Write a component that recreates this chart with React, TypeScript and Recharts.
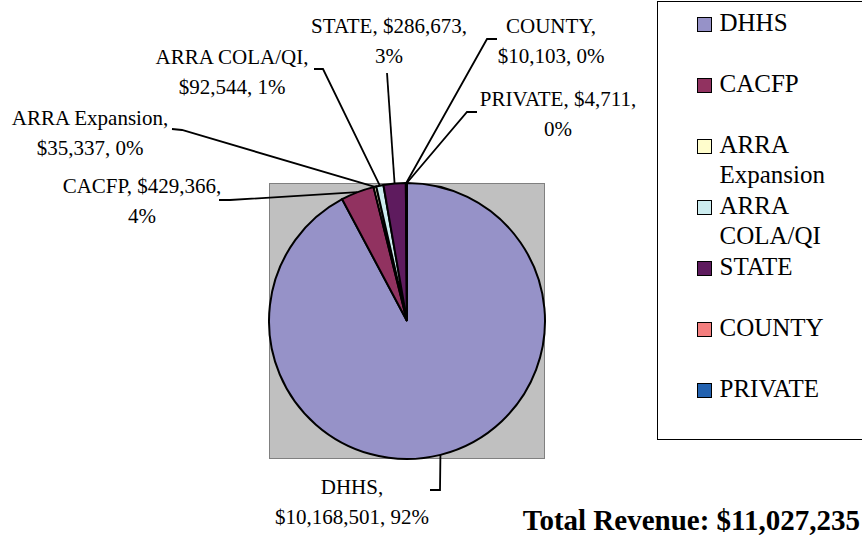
import React from 'react';
import { PieChart, Pie, Cell, Legend } from 'recharts';

// revenue sources, in Excel's order (clockwise from 12 o'clock)
const names = ['DHHS', 'CACFP', 'ARRA Expansion', 'ARRA COLA/QI', 'STATE', 'COUNTY', 'PRIVATE'];
const values = [10168501, 429366, 35337, 92544, 286673, 10103, 4711];
const colors = ['#9692C8', '#913260', '#FFFDCC', '#CCECEF', '#5E1B5E', '#F37E7E', '#2362B0'];
// where each data label wraps onto its second line
const wrapAt = ['name', 'value', 'name', 'name', 'value', 'name', 'value'];

const total = values.reduce((a, b) => a + b, 0);
const data = names.map((name, i) => ({ name, value: values[i] }));

const CX = 407;
const CY = 321;
const R = 138;
const RAD = Math.PI / 180;
const FONT = '"Liberation Serif", "Times New Roman", serif';

// hand-placed data labels: text centre + first baseline, leader end + elbow
const labelPos = [
  { x: 352, y: 494, end: [430, 490], elbow: [440, 490] },
  { x: 142, y: 193, end: [219, 200], elbow: [230, 200] },
  { x: 90, y: 125, end: [172, 129], elbow: [182, 130] },
  { x: 232, y: 64, end: [314, 69], elbow: [323, 69] },
  { x: 389, y: 33, end: [387, 73], elbow: [387, 73] },
  { x: 551, y: 33, end: [497, 39], elbow: [487, 39] },
  { x: 558, y: 106, end: [477, 112], elbow: [467, 112] },
];

const money = (v: number) => '$' + v.toLocaleString('en-US');

function renderLabel(props: any) {
  const { cx, cy, midAngle, outerRadius, index } = props;
  const ax = cx + outerRadius * Math.cos(-midAngle * RAD);
  const ay = cy + outerRadius * Math.sin(-midAngle * RAD);
  const pos = labelPos[index];
  const pct = Math.round((values[index] / total) * 100) + '%';
  const v = money(values[index]);
  let line1, line2;
  if (wrapAt[index] === 'name') {
    line1 = `${names[index]},`;
    line2 = `${v}, ${pct}`;
  } else {
    line1 = `${names[index]}, ${v},`;
    line2 = pct;
  }
  const pts = `${pos.end[0]},${pos.end[1]} ${pos.elbow[0]},${pos.elbow[1]} ${ax},${ay}`;
  return (
    <g key={`lbl-${index}`}>
      <polyline points={pts} fill="none" stroke="#000" strokeWidth={1.8} />
      <text x={pos.x} y={pos.y} textAnchor="middle" fontFamily={FONT} fontSize={21} fill="#000">
        <tspan x={pos.x} y={pos.y}>{line1}</tspan>
        <tspan x={pos.x} y={pos.y + 30}>{line2}</tspan>
      </text>
    </g>
  );
}

function renderLegend() {
  return (
    <div
      style={{
        position: 'relative',
        width: 240,
        height: 439,
        border: '1.5px solid #000',
        background: '#fff',
        boxSizing: 'border-box',
        fontFamily: FONT,
        fontSize: 25,
        lineHeight: '30px',
        color: '#000',
      }}
    >
      {names.map((n, i) => (
        <div key={n} style={{ position: 'absolute', top: 6 + 61 * i, left: 0 }}>
          <div
            style={{
              position: 'absolute',
              top: 8.5,
              left: 38.5,
              width: 15,
              height: 15,
              boxSizing: 'border-box',
              border: '1.5px solid #000',
              background: colors[i],
            }}
          />
          <div style={{ position: 'absolute', top: 0, left: 61.5, width: 125 }}>{n}</div>
        </div>
      ))}
    </div>
  );
}

export default function App() {
  return (
    <div style={{ position: 'absolute', left: 0, top: 0, width: 862, height: 537, overflow: 'hidden', background: '#fff' }}>
      {/* grey plot area behind the pie */}
      <div
        style={{
          position: 'absolute',
          left: CX - R,
          top: CY - R,
          width: 2 * R,
          height: 2 * R,
          background: '#C0C0C0',
          border: '1.5px solid #808080',
          boxSizing: 'border-box',
        }}
      />
      <div style={{ position: 'absolute', left: 0, top: 0 }}>
        <PieChart width={862} height={537} margin={{ top: 0, right: 0, bottom: 0, left: 0 }}>
          <Pie
            data={data}
            dataKey="value"
            nameKey="name"
            cx={CX}
            cy={CY}
            outerRadius={R}
            startAngle={90}
            endAngle={-270}
            stroke="#000"
            strokeWidth={2}
            label={renderLabel}
            labelLine={false}
            isAnimationActive={false}
          >
            {data.map((d, i) => (
              <Cell key={d.name} fill={colors[i]} />
            ))}
          </Pie>
          <Legend
            layout="vertical"
            align="right"
            verticalAlign="top"
            content={renderLegend}
            wrapperStyle={{ position: 'absolute', left: 657, top: 1, width: 240, height: 439 }}
          />
        </PieChart>
      </div>
      <div
        style={{
          position: 'absolute',
          right: 2,
          top: 504,
          fontFamily: FONT,
          fontWeight: 'bold',
          fontSize: 29,
          lineHeight: '32px',
          color: '#000',
          whiteSpace: 'nowrap',
        }}
      >
        Total Revenue: {money(total)}
      </div>
    </div>
  );
}
